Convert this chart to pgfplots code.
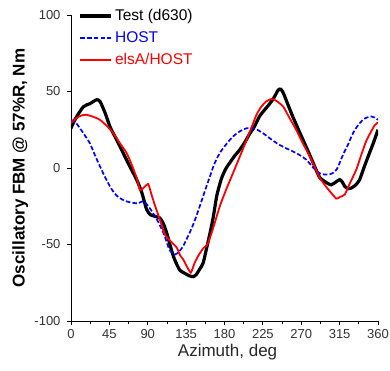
\documentclass[border=0pt]{standalone}
\usepackage{fontspec}
\setmainfont{Liberation Sans}
\usepackage{pgfplots}
\pgfplotsset{compat=1.18}
\begin{document}
\begin{tikzpicture}
\begin{axis}[
  width=307pt, height=306pt, scale only axis,
  xmin=0, xmax=360, ymin=-100, ymax=100,
  xtick={0,45,...,360}, ytick={-100,-50,0,50,100},
  minor x tick num=1,
  axis lines=left, axis line style={-, line width=0.8pt},
  tick align=outside, tick style={black, line width=0.8pt},
  major tick length=4pt, minor tick length=2.5pt,
  /pgf/number format/assume math mode=true,
  ticklabel style={font=\fontsize{13}{15}\selectfont, text=black!80},
  yticklabel style={xshift=-3pt},
  xticklabel style={yshift=-1pt},
  xlabel={Azimuth, deg},
  ylabel={\bfseries Oscillatory FBM @ 57\%R, Nm},
  label style={font=\fontsize{17}{19}\selectfont},
  xlabel style={at={(axis description cs:0.51,-0.103)}, anchor=center, text=black!85},
  ylabel style={at={(axis description cs:-0.165,0.5)}, anchor=center},
  legend style={draw=none, fill=none, at={(0.025,1.025)}, anchor=north west,
    font=\fontsize{15.5}{17}\selectfont, row sep=5.5pt, inner sep=0pt},
  legend cell align=left,
  legend image code/.code={\draw[#1] (0pt,0pt) -- (31pt,0pt);},
  clip=true,
]
\addlegendimage{black, line width=3.2pt}
\addlegendentry{Test (d630)}
\addlegendimage{blue, line width=1.7pt, dash pattern=on 4.5pt off 2.2pt}
\addlegendentry{\textcolor{blue}{HOST}}
\addlegendimage{red, line width=1.8pt}
\addlegendentry{\textcolor{red}{elsA/HOST}}
\addplot[forget plot, black, line width=3.2pt, smooth, tension=0.4] coordinates {
(0,26) (5,32) (14.4,40) (22,42) (30,44.6) (34,43.5) (40,36) (45.7,27) (53,19) (61,10) (69,1) (77,-7.6) (83,-16) (88.6,-27) (93,-30.5) (98,-31.5) (104,-32.6)
(108,-36) (112,-42) (116,-50) (120,-57.6) (124,-63) (128,-67) (134,-69) (139,-70.5) (143.4,-71) (147,-69.6) (151,-66) (155,-62)
(160,-50) (164,-40) (167,-31.5) (171,-18) (176,-7.6) (181,-1) (186,3.3) (192,8) (198,12) (204,17) (210,22.8) (215,27) (221,33.7)
(227,38) (233,42) (238,46) (243,51) (246,51.5) (249,49) (254,42) (260,33.7) (266,26) (272,18.5) (278,11) (284,3.3) (288,-2) (292,-6.5)
(298,-9) (305,-11) (311,-9) (315,-7.6) (318,-9) (321,-12) (325,-13.5) (329,-13) (334,-11) (338.5,-7.6) (344,1) (350,9.8) (355,17) (360,25)
};
\addplot[forget plot, blue, line width=1.7pt, dash pattern=on 4.5pt off 2.2pt, smooth, tension=0.5] coordinates {
(0,31.5) (5,30) (10.5,26) (16,21.5) (22,16.3) (28,8.5) (34,1) (40,-6) (45.7,-12) (51,-16.5) (57,-19.6) (65,-21.8) (73,-22.8) (79,-23)
(84.7,-21.7) (90,-24.5) (96,-29.3) (102,-35) (108,-42) (112,-48) (116,-54) (122,-56.5) (127,-54.5) (131.6,-51) (136,-46) (141,-40)
(146,-33) (151,-25) (157,-15) (163,-5.4) (168,2.5) (174.5,9.8) (182,15.5) (190,20.6) (198,24) (206,26) (213.6,26) (219,24.8) (225,22.8)
(233,19.5) (241,16.3) (250,13.5) (260,10.9) (268,8.5) (276,5.4) (282,1.5) (288,-2) (293,-3.8) (297.5,-4.3) (302,-4.3) (307,-3.3)
(312,-0.5) (319,8.7) (325,15.5) (330.7,22.8) (336,27.5) (342.4,31.5) (347,33) (352,33.7) (356,33) (360,31.5)
};
\addplot[forget plot, red, line width=1.8pt, smooth, tension=0.3] coordinates {
(0,29.3) (6,32.5) (12,34.3) (18,34.8) (26,33.5) (34,31.5) (42,27.5) (49.6,22.8) (57,16.5) (65,10) (71,2.5) (77,-6.5) (81,-14.5)
(86,-12.5) (90.6,-10.5) (95,-18.5) (100,-27) (105,-35) (110,-43.5) (117,-48) (124,-52) (127.8,-56.9) (131.6,-59.8) (135,-63.5) (140.5,-68.4)
(145,-62) (149,-57.6) (155,-52.5) (160,-50) (166,-40.5) (174.5,-25) (182,-14) (190,-3.3) (198,7.5) (206,18.5) (212,27) (217.5,34.8)
(223,40) (229,43.5) (234,45) (238,44.8) (243,43) (249,40) (256,33) (264,25) (272,16) (280,7.6) (286,0.5) (291.7,-6.5) (301,-13.5)
(311,-20) (315,-19) (321,-17.4) (327,-10) (334.6,-1) (340,8) (346,17.4) (352,24) (356,27.8) (360,29.8)
};
\end{axis}
\pgfresetboundingbox
\path[use as bounding box] (current axis.south west) ++(-71pt,-49pt) rectangle ([xshift=12pt,yshift=15pt]current axis.north east);
\end{tikzpicture}
\end{document}
